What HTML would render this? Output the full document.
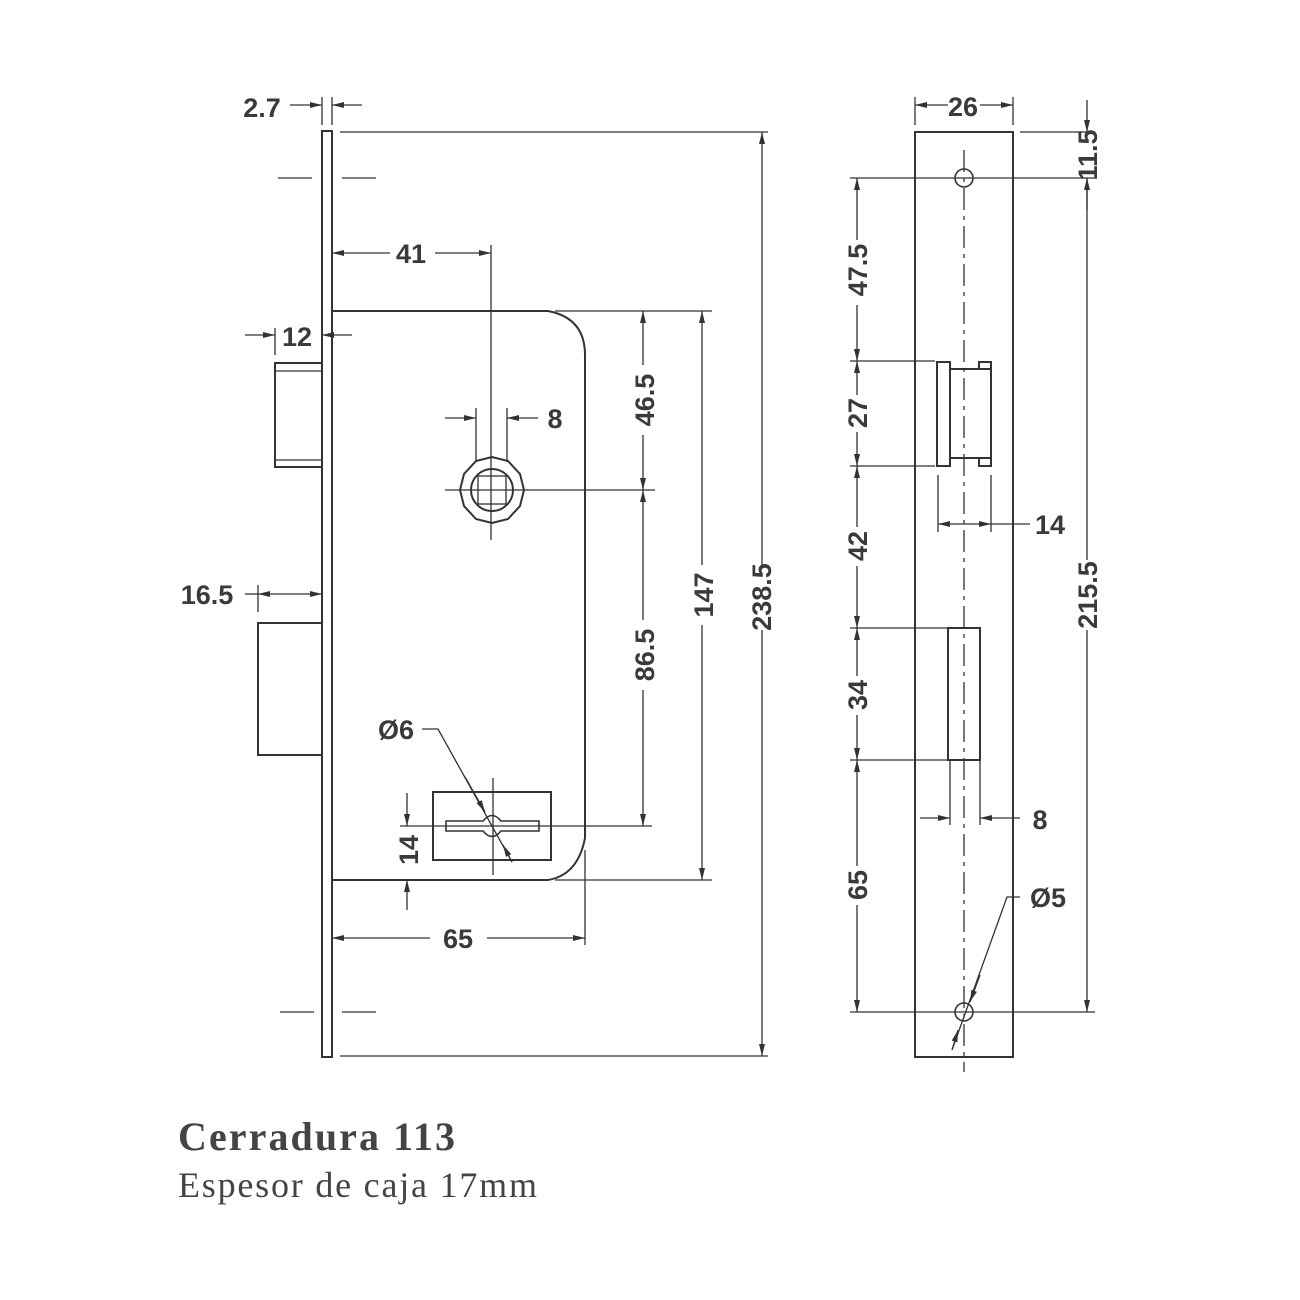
<!DOCTYPE html>
<html><head><meta charset="utf-8"><style>
html,body{margin:0;padding:0;background:#fff;}
svg{display:block}
.d{font-family:"Liberation Sans",sans-serif;font-weight:bold;font-size:27px;fill:#3a3a3a}
</style></head><body>
<svg width="1300" height="1300" viewBox="0 0 1300 1300" xmlns="http://www.w3.org/2000/svg">
<defs>
<marker id="a" viewBox="0 0 12 6" refX="12" refY="3" markerWidth="12" markerHeight="6" markerUnits="userSpaceOnUse" orient="auto-start-reverse">
<path d="M0,0 L12,3 L0,6 z" fill="#333"/></marker>
</defs>
<g stroke="#333" fill="none" stroke-width="1.3">
<!-- LEFT VIEW -->
<rect x="322" y="131" width="10" height="926" stroke-width="2"/>
<line x1="340" y1="132" x2="768" y2="132"/>
<line x1="340" y1="1056" x2="768" y2="1056"/>
<line x1="762" y1="132" x2="762" y2="565" marker-start="url(#a)"/>
<line x1="762" y1="630" x2="762" y2="1056" marker-end="url(#a)"/>
<line x1="278" y1="178" x2="312" y2="178"/><line x1="342" y1="178" x2="376" y2="178"/>
<line x1="280" y1="1012" x2="314" y2="1012"/><line x1="342" y1="1012" x2="376" y2="1012"/>
<!-- 2.7 -->
<line x1="322" y1="97" x2="322" y2="125"/><line x1="332" y1="97" x2="332" y2="125"/>
<line x1="290" y1="105" x2="322" y2="105" marker-end="url(#a)"/>
<line x1="362" y1="105" x2="332" y2="105" marker-end="url(#a)"/>
<!-- case -->
<path d="M332,311 H548 Q585,318 585,355 V838 Q578,875 548,880 H332" stroke-width="2"/>
<!-- 41 -->
<line x1="332" y1="253" x2="390" y2="253" marker-start="url(#a)"/>
<line x1="435" y1="253" x2="491" y2="253" marker-end="url(#a)"/>
<line x1="491" y1="245" x2="491" y2="540"/>
<!-- 12 -->
<line x1="245" y1="335" x2="275" y2="335" marker-end="url(#a)"/>
<line x1="275" y1="328" x2="275" y2="355"/>
<line x1="352" y1="335" x2="322" y2="335" marker-end="url(#a)"/>
<!-- latch -->
<rect x="275" y="363" width="47" height="104" stroke-width="2"/>
<line x1="275" y1="371" x2="322" y2="371"/><line x1="275" y1="460" x2="322" y2="460"/>
<!-- 16.5 -->
<line x1="245" y1="594" x2="258" y2="594"/>
<line x1="258" y1="594" x2="322" y2="594" marker-start="url(#a)" marker-end="url(#a)"/>
<line x1="258" y1="585" x2="258" y2="612"/>
<rect x="258" y="623" width="64" height="132" stroke-width="2"/>
<!-- hub -->
<polygon points="524,490 520,506 508,519 492,523 476,519 464,506 460,490 464,474 476,461 492,457 508,461 520,474" stroke-width="2"/>
<circle cx="492" cy="490" r="21" stroke-width="2"/>
<rect x="478" y="476" width="28" height="28"/>
<line x1="445" y1="490" x2="655" y2="490"/>
<!-- 8 -->
<line x1="476" y1="408" x2="476" y2="462"/><line x1="507" y1="408" x2="507" y2="462"/>
<line x1="445" y1="418" x2="476" y2="418" marker-end="url(#a)"/>
<line x1="538" y1="418" x2="507" y2="418" marker-end="url(#a)"/>
<!-- 46.5 / 86.5 / 147 -->
<line x1="555" y1="311" x2="712" y2="311"/>
<line x1="555" y1="880" x2="712" y2="880"/>
<line x1="643" y1="311" x2="643" y2="365" marker-start="url(#a)"/>
<line x1="643" y1="435" x2="643" y2="490" marker-end="url(#a)"/>
<line x1="643" y1="490" x2="643" y2="620" marker-start="url(#a)"/>
<line x1="643" y1="690" x2="643" y2="826" marker-end="url(#a)"/>
<line x1="702" y1="311" x2="702" y2="565" marker-start="url(#a)"/>
<line x1="702" y1="625" x2="702" y2="880" marker-end="url(#a)"/>
<!-- keyhole -->
<rect x="433" y="792" width="118" height="68" stroke-width="2"/>
<path d="M446,821 H483 Q492,810 501,821 H539 V831 H501 Q492,842 483,831 H446 Z" stroke-width="1.6"/>
<line x1="400" y1="826" x2="652" y2="826"/>
<line x1="493" y1="778" x2="493" y2="875"/>
<line x1="407" y1="793" x2="407" y2="826" marker-end="url(#a)"/>
<line x1="407" y1="910" x2="407" y2="880" marker-end="url(#a)"/>
<polyline points="422,729 438,729 512,862"/>
<line x1="465" y1="777" x2="485" y2="812" marker-end="url(#a)"/>
<line x1="512" y1="862" x2="503" y2="845" marker-end="url(#a)"/>
<!-- 65 -->
<line x1="585" y1="850" x2="585" y2="945"/>
<line x1="332" y1="938" x2="430" y2="938" marker-start="url(#a)"/>
<line x1="487" y1="938" x2="585" y2="938" marker-end="url(#a)"/>

<!-- RIGHT VIEW -->
<rect x="915" y="132" width="98" height="925" stroke-width="2"/>
<line x1="964" y1="150" x2="964" y2="1072" stroke-dasharray="22,6,4,6"/>
<circle cx="964" cy="178" r="9" stroke-width="1.6"/>
<circle cx="964" cy="1012" r="9" stroke-width="1.6"/>
<line x1="915" y1="97" x2="915" y2="125"/><line x1="1013" y1="97" x2="1013" y2="125"/>
<line x1="915" y1="105" x2="948" y2="105" marker-start="url(#a)"/>
<line x1="980" y1="105" x2="1013" y2="105" marker-end="url(#a)"/>
<line x1="1020" y1="132" x2="1095" y2="132"/>
<line x1="850" y1="178" x2="1095" y2="178"/>
<line x1="850" y1="1012" x2="1095" y2="1012"/>
<line x1="1087" y1="100" x2="1087" y2="132" marker-end="url(#a)"/>
<line x1="1087" y1="210" x2="1087" y2="178" marker-end="url(#a)"/>
<line x1="1087" y1="178" x2="1087" y2="560"/>
<line x1="1087" y1="630" x2="1087" y2="1012" marker-end="url(#a)"/>
<!-- left dims -->
<line x1="850" y1="361" x2="935" y2="361"/>
<line x1="850" y1="466" x2="935" y2="466"/>
<line x1="850" y1="628" x2="948" y2="628"/>
<line x1="850" y1="760" x2="948" y2="760"/>
<line x1="857" y1="178" x2="857" y2="240" marker-start="url(#a)"/>
<line x1="857" y1="305" x2="857" y2="361" marker-end="url(#a)"/>
<line x1="857" y1="361" x2="857" y2="395" marker-start="url(#a)"/>
<line x1="857" y1="432" x2="857" y2="466" marker-end="url(#a)"/>
<line x1="857" y1="466" x2="857" y2="527" marker-start="url(#a)"/>
<line x1="857" y1="566" x2="857" y2="628" marker-end="url(#a)"/>
<line x1="857" y1="628" x2="857" y2="676" marker-start="url(#a)"/>
<line x1="857" y1="715" x2="857" y2="760" marker-end="url(#a)"/>
<line x1="857" y1="760" x2="857" y2="866" marker-start="url(#a)"/>
<line x1="857" y1="905" x2="857" y2="1012" marker-end="url(#a)"/>
<!-- side latch -->
<rect x="937" y="362" width="13" height="104" stroke-width="2"/>
<path d="M950,369 H991 M950,458 H991 M979,369 V362 H991 V466 H979 V458" stroke-width="2"/>
<line x1="938" y1="475" x2="938" y2="532"/><line x1="991" y1="475" x2="991" y2="532"/>
<line x1="938" y1="524" x2="964" y2="524" marker-start="url(#a)"/>
<line x1="964" y1="524" x2="991" y2="524" marker-end="url(#a)"/>
<line x1="991" y1="524" x2="1030" y2="524"/>
<rect x="948" y="628" width="32" height="132" stroke-width="2"/>
<line x1="950" y1="760" x2="950" y2="825"/><line x1="980" y1="760" x2="980" y2="825"/>
<line x1="920" y1="818" x2="950" y2="818" marker-end="url(#a)"/>
<line x1="1020" y1="818" x2="980" y2="818" marker-end="url(#a)"/>
<polyline points="1020,897 1007,897 952,1050"/>
<line x1="980" y1="975" x2="970" y2="1002" marker-end="url(#a)"/>
<line x1="952" y1="1050" x2="958" y2="1030" marker-end="url(#a)"/>
</g>
<g class="d">
<text x="262" y="117" text-anchor="middle">2.7</text>
<text x="411" y="263" text-anchor="middle">41</text>
<text x="297" y="346" text-anchor="middle">12</text>
<text x="555" y="428" text-anchor="middle">8</text>
<text x="207" y="604" text-anchor="middle">16.5</text>
<text x="396" y="739" text-anchor="middle">Ø6</text>
<text x="458" y="948" text-anchor="middle">65</text>
<text transform="translate(654,400) rotate(-90)" text-anchor="middle">46.5</text>
<text transform="translate(654,655) rotate(-90)" text-anchor="middle">86.5</text>
<text transform="translate(713,595) rotate(-90)" text-anchor="middle">147</text>
<text transform="translate(771,597) rotate(-90)" text-anchor="middle">238.5</text>
<text transform="translate(418,850) rotate(-90)" text-anchor="middle">14</text>
<text x="963" y="116" text-anchor="middle">26</text>
<text transform="translate(1097,155) rotate(-90)" text-anchor="middle">11.5</text>
<text transform="translate(1097,595) rotate(-90)" text-anchor="middle">215.5</text>
<text transform="translate(867,270) rotate(-90)" text-anchor="middle">47.5</text>
<text transform="translate(867,413) rotate(-90)" text-anchor="middle">27</text>
<text transform="translate(867,546) rotate(-90)" text-anchor="middle">42</text>
<text transform="translate(867,695) rotate(-90)" text-anchor="middle">34</text>
<text transform="translate(867,885) rotate(-90)" text-anchor="middle">65</text>
<text x="1050" y="534" text-anchor="middle">14</text>
<text x="1040" y="829" text-anchor="middle">8</text>
<text x="1048" y="907" text-anchor="middle">Ø5</text>
</g>
<text x="178" y="1150" font-family="Liberation Serif,serif" font-weight="bold" font-size="40" fill="#444" textLength="277">Cerradura 113</text>
<text x="178" y="1197" font-family="Liberation Serif,serif" font-size="36" fill="#444" textLength="359">Espesor de caja 17mm</text>
</svg>
</body></html>
